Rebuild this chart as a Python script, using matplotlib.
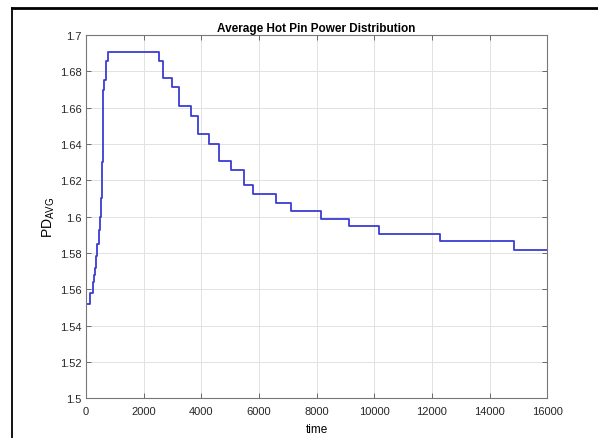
import matplotlib
matplotlib.use("Agg")
from matplotlib import pyplot as plt
from matplotlib.lines import Line2D

plt.rcParams["font.family"] = ["Liberation Sans", "DejaVu Sans"]

# step changes of the average hot pin power distribution
time = [0, 140, 230, 265, 300, 345, 390, 435, 480, 515, 545, 565, 580, 592,
        600, 635, 690, 750, 2540, 2683, 2974, 3228, 3633, 3898, 4269, 4616,
        5022, 5484, 5786, 6584, 7104, 8145, 9128, 10158, 12286, 14844, 16000]
pd_avg = [1.5518, 1.5579, 1.5640, 1.5680, 1.5720, 1.5785, 1.5850, 1.5925,
          1.6000, 1.6100, 1.6200, 1.6300, 1.6400, 1.6550, 1.6697, 1.6753,
          1.6855, 1.6904, 1.6855, 1.6762, 1.6712, 1.6610, 1.6555, 1.6455,
          1.6401, 1.6307, 1.6255, 1.6173, 1.6124, 1.6076, 1.6030, 1.5988,
          1.5946, 1.5904, 1.5865, 1.5819, 1.5819]

xticks = list(range(0, 16001, 2000))
yticks = [1.5, 1.52, 1.54, 1.56, 1.58, 1.6, 1.62, 1.64, 1.66, 1.68, 1.7]
ytick_labels = ["1.5", "1.52", "1.54", "1.56", "1.58", "1.6", "1.62", "1.64",
                "1.66", "1.68", "1.7"]

fig = plt.figure(figsize=(5.98, 4.39), dpi=100)
ax = fig.add_axes([0.1438, 0.0904, 0.7714, 0.8276])

ax.plot(time, pd_avg, drawstyle="steps-post", color="#3c3cd2", linewidth=1.3)

ax.set_xlim(0, 16000)
ax.set_ylim(1.5, 1.7)
ax.set_xticks(xticks)
ax.set_xticklabels([str(t) for t in xticks])
ax.set_yticks(yticks)
ax.set_yticklabels(ytick_labels)
ax.grid(True, color="#e2e2e2", linewidth=0.7)
ax.set_axisbelow(True)
ax.tick_params(direction="in", length=3.5, width=0.6, top=True, right=True,
               labelsize=8, colors="#555555", labelcolor="#262626")
ax.tick_params(axis="x", pad=5.5)
ax.tick_params(axis="y", pad=3)
for s in ax.spines.values():
    s.set_color("#777777")
    s.set_linewidth(0.8)

ax.set_title("Average Hot Pin Power Distribution", fontsize=8.5,
             fontweight="bold", pad=3)
ax.set_xlabel("time", fontsize=8.5, labelpad=5)
ax.set_ylabel(r"PD$_{\mathregular{AVG}}$", fontsize=10)
ax.yaxis.set_label_coords(-0.063, 0.5)

# black frame lines at the top and left edge of the picture
fig.add_artist(Line2D([0.0209, 1.0], [0.9806, 0.9806], color="black",
                      linewidth=2.0, transform=fig.transFigure))
fig.add_artist(Line2D([0.0209, 0.0209], [0.0, 0.9806], color="black",
                      linewidth=1.3, transform=fig.transFigure))

fig.savefig("out.png", dpi=100)
